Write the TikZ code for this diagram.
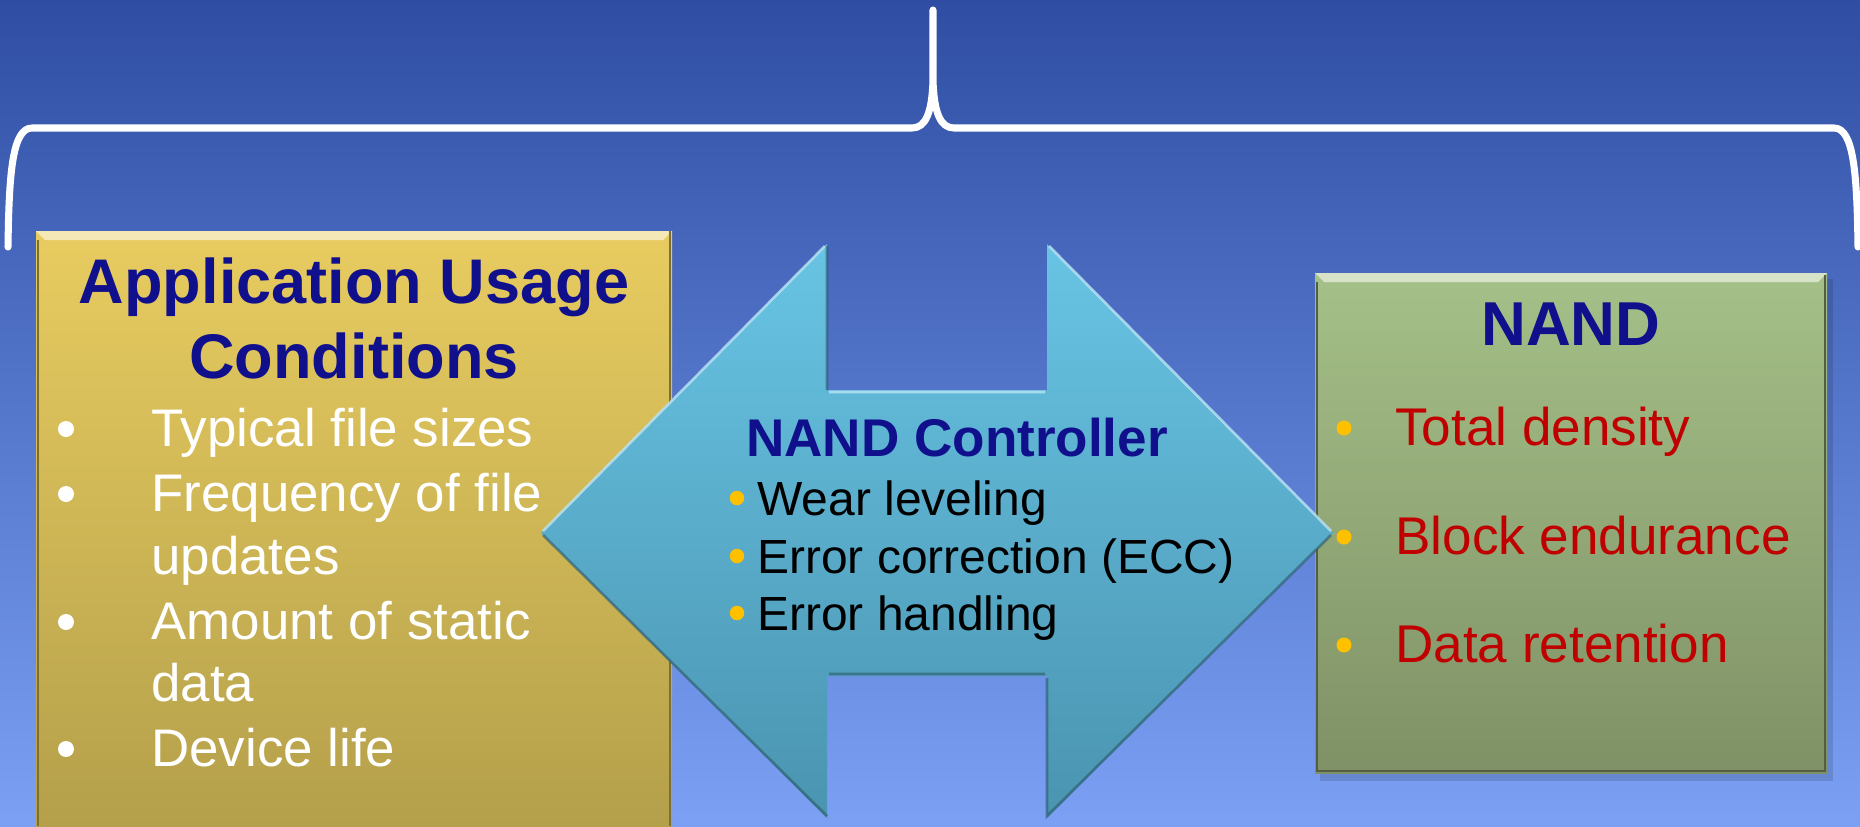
\documentclass[tikz,border=0pt]{standalone}
\usepackage{fontspec}
\setmainfont{Liberation Sans}
\usepackage{tikz}
\definecolor{skytop}{RGB}{47,78,163}
\definecolor{skybottom}{RGB}{123,160,244}
\definecolor{usagetop}{RGB}{232,204,96}
\definecolor{usagebottom}{RGB}{180,160,75}
\definecolor{nandtop}{RGB}{165,192,136}
\definecolor{nandbottom}{RGB}{127,145,102}
\definecolor{ctrltop}{RGB}{104,196,228}
\definecolor{ctrlbottom}{RGB}{74,148,176}
\definecolor{titleblue}{RGB}{16,16,140}
\definecolor{itemred}{RGB}{192,0,0}
\definecolor{bulletgold}{RGB}{255,192,0}

\begin{document}
\begin{tikzpicture}[x=0.02cm,y=-0.02cm,
        brace/.style={draw=white,line width=4pt,line cap=round,line join=round},
        head/.style={inner sep=0pt,anchor=base,text=titleblue,font=\fontsize{#1}{#1}\selectfont\bfseries},
        item/.style={inner sep=0pt,anchor=base west,font=\fontsize{#1}{#1}\selectfont},
        dot/.style={circle,inner sep=0pt,minimum size=#1},
        ]
        \useasboundingbox (0,0) rectangle (1860,826);
        \shade[top color=skytop,bottom color=skybottom] (0,0) rectangle (1860,826);
        % brace over the three parts
        \path[brace] (8,247) .. controls (9,175) and (12,128) .. (32,128) -- (912,128)
            .. controls (926,128) and (932,112) .. (933,80) -- (933,10)
            (933,80) .. controls (934,112) and (940,128) .. (954,128) -- (1834,128)
            .. controls (1854,128) and (1857,175) .. (1858,247);
        % application box
        \shade[top color=usagetop,bottom color=usagebottom] (36,231) rectangle (672,826);
        \fill[usagetop!45!white] (36,231) -- (672,231) -- (663,240) -- (45,240) -- cycle;
        \draw[usagebottom!70!black,line width=1.2pt] (38,240) -- (38,826) (670,231) -- (670,826);
        % nand box
        \fill[black,opacity=0.12] (1320,279) rectangle (1833,781);
        \shade[top color=nandtop,bottom color=nandbottom] (1315,273) rectangle (1827,773);
        \fill[nandtop!45!white] (1315,273) -- (1827,273) -- (1818,282) -- (1324,282) -- cycle;
        \draw[nandbottom!65!black,line width=1.2pt] (1317,282) -- (1317,771) -- (1825,771) -- (1825,275);
        % controller arrow
        \shade[top color=ctrltop,bottom color=ctrlbottom] (541,533) -- (827,244) -- (827,390) -- (1047,390)
            -- (1047,244) -- (1333,533) -- (1047,818) -- (1047,676) -- (827,676) -- (827,818) -- cycle;
        \draw[ctrltop!45!white,line width=1.5pt,opacity=0.8] (543,531) -- (825,246) (829,392) -- (1045,392) (1049,246) -- (1331,531);
        \draw[ctrlbottom!60!black,line width=1.5pt,opacity=0.6] (543,535) -- (827,816) (827,246) -- (827,390)
            (1047,678) -- (1047,816) -- (1331,535) (829,674) -- (1045,674);

        \node[head=35.9] (usage1) at (354,303) {Application Usage};
        \node[head=35.9] (usage2) at (354,378) {Conditions};
        \node[dot=0.32cm,fill=white] (ub1) at (66,429) {};
        \node[item=30.1,text=white] (ut1) at (151,446) {Typical file sizes};
        \node[dot=0.32cm,fill=white] (ub2) at (66,494) {};
        \node[item=30.1,text=white] (ut2) at (151,511) {Frequency of file};
        \node[item=30.1,text=white] (ut2b) at (151,574) {updates};
        \node[dot=0.32cm,fill=white] (ub3) at (66,622) {};
        \node[item=30.1,text=white] (ut3) at (151,639) {Amount of static};
        \node[item=30.1,text=white] (ut3b) at (151,701) {data};
        \node[dot=0.32cm,fill=white] (ub4) at (66,749) {};
        \node[item=30.1,text=white] (ut4) at (151,766) {Device life};

        \node[head=30.2,anchor=base west] (ctrl) at (746,456) {NAND Controller};
        \node[dot=0.29cm,fill=bulletgold] (cb1) at (737,498) {};
        \node[item=27.3] (ct1) at (757,515) {Wear leveling};
        \node[dot=0.29cm,fill=bulletgold] (cb2) at (737,556) {};
        \node[item=27.3] (ct2) at (757,573) {Error correction (ECC)};
        \node[dot=0.29cm,fill=bulletgold] (cb3) at (737,613) {};
        \node[item=27.3] (ct3) at (757,630) {Error handling};

        \node[head=35.3] (nand) at (1571,345) {NAND};
        \node[dot=0.3cm,fill=bulletgold] (nb1) at (1344,428) {};
        \node[item=30.2,text=itemred] (nt1) at (1395,445) {Total density};
        \node[dot=0.3cm,fill=bulletgold] (nb2) at (1344,537) {};
        \node[item=30.2,text=itemred] (nt2) at (1395,554) {Block endurance};
        \node[dot=0.3cm,fill=bulletgold] (nb3) at (1344,645) {};
        \node[item=30.2,text=itemred] (nt3) at (1395,662) {Data retention};
\end{tikzpicture}
\end{document}
